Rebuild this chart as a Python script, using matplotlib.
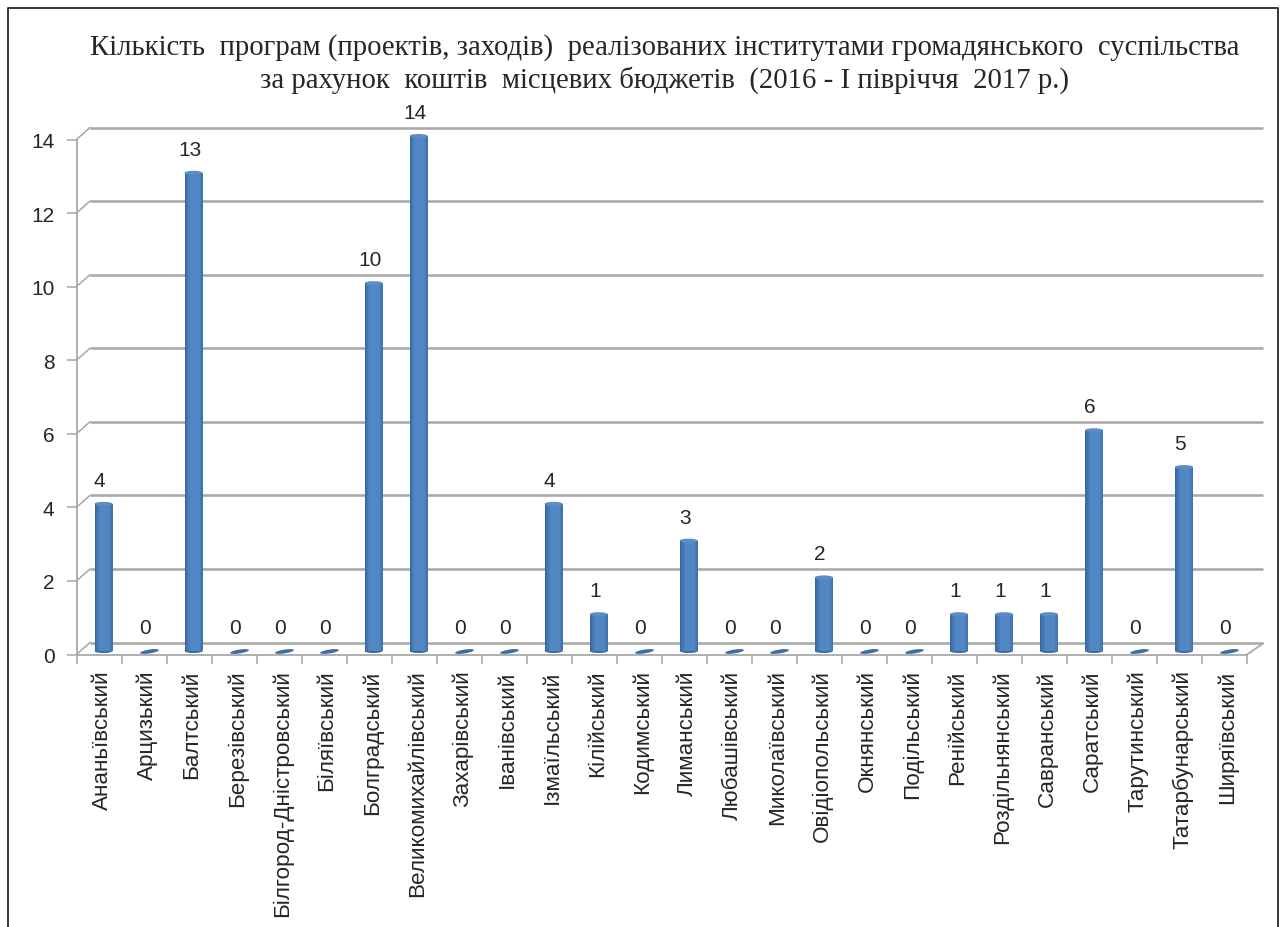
import matplotlib
matplotlib.use("Agg")
import matplotlib.pyplot as plt
import numpy as np
from matplotlib.lines import Line2D
from matplotlib.patches import Ellipse
from matplotlib.path import Path
from matplotlib.transforms import Affine2D, ScaledTranslation, offset_copy

categories = ["Ананьївський", "Арцизький", "Балтський", "Березівський",
              "Білгород-Дністровський", "Біляївський", "Болградський",
              "Великомихайлівський", "Захарівський", "Іванівський",
              "Ізмаїльський", "Кілійський", "Кодимський", "Лиманський",
              "Любашівський", "Миколаївський", "Овідіопольський", "Окнянський",
              "Подільський", "Ренійський", "Роздільнянський", "Савранський",
              "Саратський", "Тарутинський", "Татарбунарський", "Ширяївський"]
values = [4, 0, 13, 0, 0, 0, 10, 14, 0, 0, 4, 1, 0, 3, 0, 0, 2, 0, 0, 1, 1, 1, 6, 0, 5, 0]
y_ticks = [0, 2, 4, 6, 8, 10, 12, 14]
title = ("Кількість  програм (проектів, заходів)  реалізованих інститутами громадянського  суспільства\n"
         "за рахунок  коштів  місцевих бюджетів  (2016 - І півріччя  2017 р.)")

W, H = 1283, 928
fig = plt.figure(figsize=(W / 100, H / 100), dpi=100, facecolor="white")
L, R, T, B = 76.5, 1247, 140.5, 655.5
ax = fig.add_axes([L / W, 1 - B / H, (R - L) / W, (B - T) / H])
ax.set_xlim(0, len(categories))
ax.set_ylim(0, 14)
ax.patch.set_alpha(0)

TXT = "#262626"
GRID = "#A9A9A9"
SANS = "Liberation Sans"
px = 72 / 100

# outer frame (open at the bottom)
fig.add_artist(Line2D([7.5 / W, 7.5 / W, 1278 / W, 1278 / W],
                      [0, 1 - 9 / H, 1 - 9 / H, 0],
                      transform=fig.transFigure, color="#3A3A3A", lw=2 * px))

# 3D-looking back wall
back = offset_copy(ax.transData, fig=fig, x=13.5, y=12, units="dots")
for v in y_ticks:
    ax.plot([0, len(categories) + 0.05], [v, v], color=GRID, lw=2.6 * px, transform=back,
            clip_on=False, zorder=1, solid_capstyle="butt")
    ax.annotate("", xy=(0, v), xytext=(13.5, 12), textcoords="offset pixels",
                arrowprops=dict(arrowstyle="-", color=GRID, lw=1.6 * px, shrinkA=0, shrinkB=0), zorder=1)
ax.annotate("", xy=(len(categories), 0), xytext=(16, 11), textcoords="offset pixels",
            arrowprops=dict(arrowstyle="-", color=GRID, lw=1.8 * px, shrinkA=0, shrinkB=0), zorder=1)

# cylinders
x = np.arange(len(categories)) + 0.5
bar_tr = offset_copy(ax.transData, fig=fig, x=4.5, y=3.5, units="dots")
bw = 18 / 45
n = 14
edges = np.linspace(-bw / 2, bw / 2, n + 1)
for i in range(n):
    t = (i + 0.5) / n
    k = 1 - abs(t - 0.55) * 2
    c0, c1 = np.array([0.22, 0.41, 0.63]), np.array([0.32, 0.53, 0.77])
    col = c0 + (c1 - c0) * min(1, k * 2.0)
    ax.bar(x + edges[i], values, width=(edges[i + 1] - edges[i]) * 1.05, align="edge",
           color=col, lw=0, transform=bar_tr, zorder=3, clip_on=False)
eh = 4 / (B - T) * 14
for xi, v in zip(x, values):
    if v > 0:
        ax.add_patch(Ellipse((xi, 0), bw, eh, fc="#3A6AA3", lw=0, transform=bar_tr, zorder=2.9, clip_on=False))
        ax.add_patch(Ellipse((xi, v), bw, eh, fc="#5B8CC4", lw=0, transform=bar_tr, zorder=4, clip_on=False))

# zero-height discs
disc = Path.unit_circle().transformed(Affine2D().scale(1, 0.2).rotate_deg(9))
zeros = [xi for xi, v in zip(x, values) if v == 0]
ax.plot(zeros, [0] * len(zeros), ls="", marker=disc, ms=19 * px, mew=0, color="#3C6DA6",
        transform=offset_copy(ax.transData, fig=fig, x=5, y=3.5, units="dots"), clip_on=False, zorder=3)

# value labels
for xi, v in zip(x, values):
    ax.annotate(str(v), xy=(xi, v), xytext=(0.5, 27), textcoords="offset pixels",
                ha="center", va="center", fontsize=15, family=SANS, color=TXT, zorder=5)

# axes
for s in ("top", "right"):
    ax.spines[s].set_visible(False)
for s in ("left", "bottom"):
    ax.spines[s].set_color(GRID)
    ax.spines[s].set_linewidth(1.8 * px)
ax.set_yticks(y_ticks)
ax.tick_params(axis="y", length=10 * px, width=1.6 * px, color=GRID, pad=12 * px,
               labelsize=15, labelcolor=TXT)
ax.set_xticks(x)
ax.set_xticklabels(categories, rotation=90, family=SANS, fontsize=16.2, color=TXT)
ax.tick_params(axis="x", which="major", length=0, pad=15 * px)
ax.set_xticks(np.arange(len(categories) + 1), minor=True)
ax.tick_params(axis="x", which="minor", length=9 * px, width=1.6 * px, color=GRID)
shift = ScaledTranslation(3 / 100, 0, fig.dpi_scale_trans)
for lab in ax.get_xticklabels():
    lab.set_transform(lab.get_transform() + shift)
for lab in ax.get_yticklabels():
    lab.set_family(SANS)

ax.set_title(title, family="Liberation Serif", fontsize=20.7, color=TXT, linespacing=1.25,
             pad=38, x=0.5025)

fig.savefig("out.png", dpi=100, facecolor="white")
